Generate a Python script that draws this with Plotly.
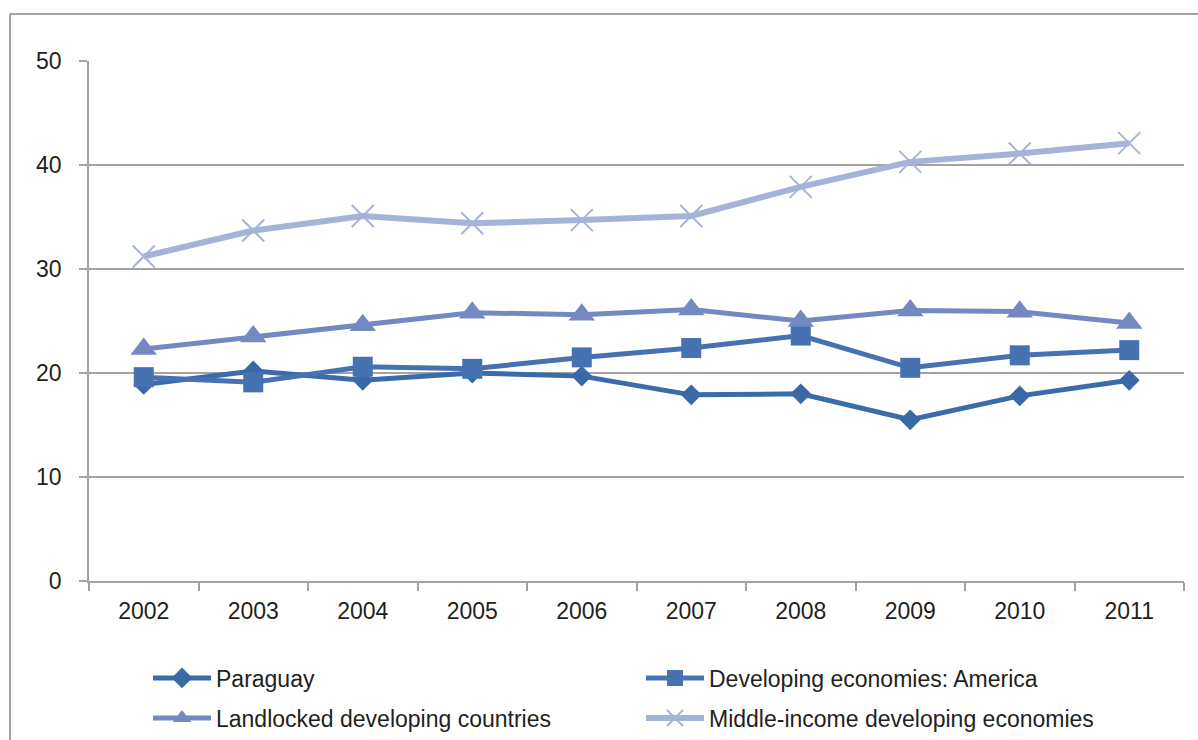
import plotly.graph_objects as go

years = ["2002", "2003", "2004", "2005", "2006", "2007", "2008", "2009", "2010", "2011"]

paraguay = [18.9, 20.2, 19.3, 20.0, 19.7, 17.9, 18.0, 15.5, 17.8, 19.3]
dev_america = [19.6, 19.1, 20.6, 20.4, 21.5, 22.4, 23.6, 20.5, 21.7, 22.2]
landlocked = [22.3, 23.5, 24.6, 25.8, 25.6, 26.1, 25.0, 26.0, 25.9, 24.8]
middle_income = [31.2, 33.7, 35.1, 34.4, 34.7, 35.1, 37.9, 40.3, 41.1, 42.1]

series = [
    ("Paraguay", paraguay, "#3C6BA9", "#3A69A8", "diamond", 16, 5, "legend"),
    ("Developing economies: America", dev_america, "#4672B1", "#4672B1", "square", 20, 5, "legend"),
    ("Landlocked developing countries", landlocked, "#7489C1", "#7489C1", "triangle-up", 23, 5, "legend2"),
    ("Middle-income developing economies", middle_income, "#A5B3D9", "#A5B3D9", "x-thin", 22, 6, "legend2"),
]

text_color = "#231F20"
grid_color = "#A3A3A3"
font_family = "Liberation Sans, Arial, sans-serif"

fig = go.Figure()
for name, vals, lcol, mcol, sym, msize, lw, leg in series:
    marker = dict(symbol=sym, size=msize, color=mcol)
    if sym == "x-thin":
        marker["line"] = dict(color=mcol, width=2)
    fig.add_trace(go.Scatter(
        x=years, y=vals, name=name, mode="lines+markers",
        line=dict(color=lcol, width=lw),
        marker=marker, legend=leg,
    ))

# plot area in pixels: x 89..1184, y 61..581
W, H = 1198, 740
L, R, T, B = 89, 1184, 61, 581
def px_x(p):
    return (p - L) / (R - L)
def px_y(p):
    return (B - p) / (B - T)

legend_common = dict(
    orientation="h", xref="container", yref="container",
    xanchor="left", yanchor="middle",
    entrywidth=420, entrywidthmode="pixels", itemwidth=58,
    font=dict(size=23), bgcolor="rgba(0,0,0,0)",
)

fig.update_layout(
    width=W, height=H,
    margin=dict(l=L, r=W - R, t=T, b=H - B, autoexpand=False),
    paper_bgcolor="white", plot_bgcolor="white",
    font=dict(family=font_family, color=text_color, size=23),
    xaxis=dict(
        type="category", range=[-0.5, 9.5], tickson="boundaries",
        ticks="outside", ticklen=8, tickcolor=grid_color, tickwidth=1.5,
        showline=True, linecolor=grid_color, linewidth=1.5,
        showgrid=False, tickfont=dict(size=23), ticklabelstandoff=9,
    ),
    yaxis=dict(
        range=[0, 50], dtick=10, ticks="outside", ticklen=8,
        tickcolor=grid_color, tickwidth=1.5,
        showline=True, linecolor=grid_color, linewidth=1.5,
        showgrid=True, gridcolor=grid_color, gridwidth=1.5,
        zeroline=False, tickfont=dict(size=23), ticklabelstandoff=13,
    ),
    legend=dict(legend_common, x=148 / W, y=(H - 678) / H),
    legend2=dict(legend_common, x=148 / W, y=(H - 718) / H),
    shapes=[
        dict(type="line", xref="paper", yref="paper",
             x0=px_x(10), y0=px_y(760), x1=px_x(10), y1=px_y(14),
             line=dict(color=grid_color, width=2)),
        dict(type="line", xref="paper", yref="paper",
             x0=px_x(10), y0=px_y(14), x1=px_x(1220), y1=px_y(14),
             line=dict(color=grid_color, width=2)),
    ],
)

fig.write_html("out.html")
